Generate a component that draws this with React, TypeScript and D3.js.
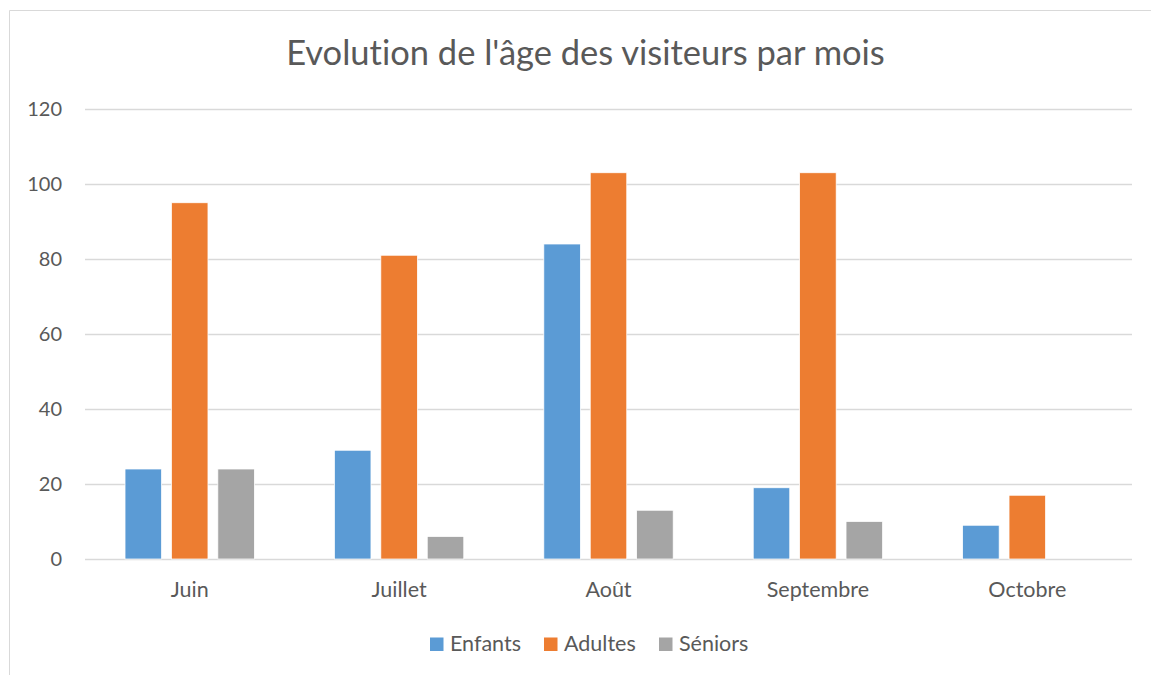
import React from "react";
import * as d3 from "d3";

const months = ["Juin", "Juillet", "Août", "Septembre", "Octobre"];
const seriesNames = ["Enfants", "Adultes", "Séniors"];
const seriesColors = ["#5B9BD5", "#ED7D31", "#A5A5A5"];
const enfants = [24, 29, 84, 19, 9];
const adultes = [95, 81, 103, 103, 17];
const seniors = [24, 6, 13, 10, 0];
const yTicks = [0, 20, 40, 60, 80, 100, 120];
const title = "Evolution de l'âge des visiteurs par mois";

const W = 1151;
const H = 675;
const FONT = "Lato, 'Open Sans', sans-serif";
const TXT = "#595959";
const noLig = { fontVariantLigatures: "none" as const };

export default function App() {
  const values = [enfants, adultes, seniors];
  const left = 85, right = 1132, top = 109, bottom = 559;
  const x = d3.scaleBand<string>().domain(months).range([left, right]).paddingInner(0).paddingOuter(0);
  const y = d3.scaleLinear().domain([0, 120]).range([bottom, top]);
  const band = x.bandwidth();
  const barW = band * 0.1745;
  const gap = barW * 0.27;
  const clusterW = 3 * barW + 2 * gap;
  const xs = d3.scaleBand<number>().domain([0, 1, 2]).range([0, clusterW]).paddingInner(gap / (barW + gap)).paddingOuter(0);

  const legendX = [430, 544, 659];

  return (
    <svg width={W} height={H} style={{ position: "absolute", left: 0, top: 0 }}>
      <rect x={0} y={0} width={W} height={H} fill="#fff" />
      <path d={`M9.5,${H} V10.5 H${W}`} fill="none" stroke="#d9d9d9" strokeWidth={1} />
      <text x={585.5} y={65} textAnchor="middle" fontFamily={FONT} fontSize={34.5} fill={TXT} style={noLig}>
        {title}
      </text>
      {yTicks.map((t) => (
        <g key={t}>
          <line x1={left} x2={right} y1={Math.round(y(t)) + 0.5} y2={Math.round(y(t)) + 0.5} stroke="#d9d9d9" strokeWidth={1.3} />
          <text x={62} y={y(t)} dy="0.35em" textAnchor="end" fontFamily={FONT} fontSize={20} fill={TXT}>
            {t}
          </text>
        </g>
      ))}
      {months.map((m, i) => {
        const cx = (x(m) as number) + band / 2;
        return (
          <g key={m}>
            {values.map((vals, s) =>
              vals[i] > 0 ? (
                <rect
                  key={s}
                  x={cx - clusterW / 2 + (xs(s) as number)}
                  y={y(vals[i])}
                  width={xs.bandwidth()}
                  height={y(0) - y(vals[i])}
                  fill={seriesColors[s]}
                  stroke="#fff"
                  strokeWidth={0.75}
                />
              ) : null
            )}
            <text x={cx} y={597} textAnchor="middle" fontFamily={FONT} fontSize={21.5} fill={TXT} style={noLig}>
              {m}
            </text>
          </g>
        );
      })}
      {seriesNames.map((n, s) => (
        <g key={n}>
          <rect x={legendX[s]} y={637.5} width={13.5} height={13.5} fill={seriesColors[s]} />
          <text x={legendX[s] + 20} y={651} fontFamily={FONT} fontSize={21.5} fill={TXT} style={noLig}>
            {n}
          </text>
        </g>
      ))}
    </svg>
  );
}
